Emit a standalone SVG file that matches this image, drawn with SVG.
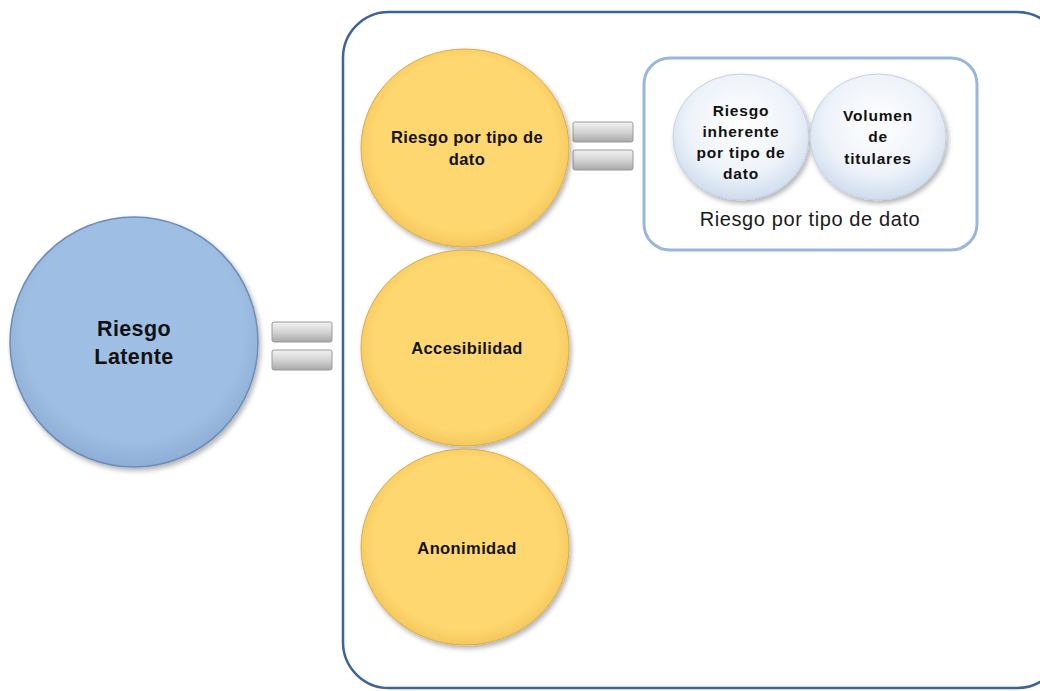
<svg xmlns="http://www.w3.org/2000/svg" width="1040" height="691" viewBox="0 0 1040 691">
<defs>
<radialGradient id="gBlue" cx="0.5" cy="0.45" r="0.55">
<stop offset="0.8" stop-color="#9fbee3"/>
<stop offset="1" stop-color="#8eaed6"/>
</radialGradient>
<radialGradient id="gGold" cx="0.5" cy="0.48" r="0.55">
<stop offset="0.8" stop-color="#ffd76f"/>
<stop offset="1" stop-color="#f0c258"/>
</radialGradient>
<radialGradient id="gLight" cx="0.5" cy="0.4" r="0.6">
<stop offset="0" stop-color="#ffffff"/>
<stop offset="0.65" stop-color="#eef3fa"/>
<stop offset="1" stop-color="#cfdcee"/>
</radialGradient>
<linearGradient id="gBar" x1="0" y1="0" x2="0" y2="1">
<stop offset="0" stop-color="#f2f2f2"/>
<stop offset="0.5" stop-color="#d4d4d4"/>
<stop offset="1" stop-color="#a8a8a8"/>
</linearGradient>
<filter id="sh" x="-10%" y="-10%" width="125%" height="125%">
<feDropShadow dx="2" dy="3" stdDeviation="2.5" flood-color="#000" flood-opacity="0.3"/>
</filter>
</defs>
<style>
.t{font-family:"Liberation Sans","DejaVu Sans",sans-serif;font-weight:bold;fill:#111;text-anchor:middle}
.y{font-size:16.5px;letter-spacing:0.4px}
.s{font-size:15.5px;letter-spacing:0.8px}
.bar{fill:url(#gBar);stroke:#9a9a9a;stroke-width:1}
.gold{fill:url(#gGold);stroke:#d9ac45;stroke-width:1;filter:url(#sh)}
.light{fill:url(#gLight);stroke:#c3d1e4;stroke-width:1;filter:url(#sh)}
</style>
<rect width="1040" height="691" fill="#fff"/>
<g id="container">
<rect x="343" y="12" width="720" height="676" rx="46" ry="46" fill="#fff" stroke="#3d6398" stroke-width="2.5"/>
</g>
<g id="inner-container">
<rect x="644" y="58" width="333" height="192" rx="26" ry="26" fill="#fff" stroke="#9ab7da" stroke-width="3"/>
<text x="810" y="226" font-family="Liberation Sans, DejaVu Sans, sans-serif" font-size="20" letter-spacing="0.6" fill="#1a1a1a" text-anchor="middle">Riesgo por tipo de dato</text>
</g>
<g id="connectors">
<rect class="bar" x="272" y="322" width="60" height="20" rx="2"/>
<rect class="bar" x="272" y="350" width="60" height="20" rx="2"/>
<rect class="bar" x="573" y="122" width="60" height="20" rx="2"/>
<rect class="bar" x="573" y="150" width="60" height="20" rx="2"/>
</g>
<g id="riesgo-latente">
<ellipse cx="134" cy="342" rx="124" ry="125" fill="url(#gBlue)" stroke="#6b8cbb" stroke-width="1.5" filter="url(#sh)"/>
<text class="t" x="134" y="336" font-size="21.5" letter-spacing="0.4">Riesgo</text>
<text class="t" x="134" y="364" font-size="21.5" letter-spacing="0.4">Latente</text>
</g>
<g id="riesgo-tipo-dato">
<ellipse class="gold" cx="465" cy="148" rx="104" ry="99"/>
<text class="t y" x="467" y="143">Riesgo por tipo de</text>
<text class="t y" x="467" y="165">dato</text>
</g>
<g id="accesibilidad">
<ellipse class="gold" cx="465" cy="348" rx="104" ry="98"/>
<text class="t y" x="467" y="354">Accesibilidad</text>
</g>
<g id="anonimidad">
<ellipse class="gold" cx="465" cy="547" rx="104" ry="98"/>
<text class="t y" x="467" y="554">Anonimidad</text>
</g>
<g id="riesgo-inherente">
<ellipse class="light" cx="741" cy="137" rx="68" ry="63"/>
<text class="t s" x="741" y="116">Riesgo</text>
<text class="t s" x="741" y="137">inherente</text>
<text class="t s" x="741" y="158">por tipo de</text>
<text class="t s" x="741" y="179">dato</text>
</g>
<g id="volumen-titulares">
<ellipse class="light" cx="878" cy="137" rx="68" ry="63"/>
<text class="t s" x="878" y="121">Volumen</text>
<text class="t s" x="878" y="142">de</text>
<text class="t s" x="878" y="164">titulares</text>
</g>
</svg>
